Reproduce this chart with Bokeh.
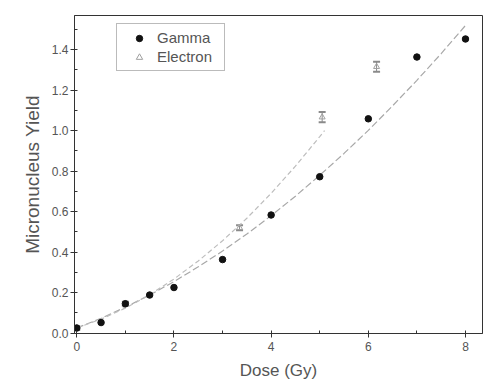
from bokeh.plotting import figure
from bokeh.models import (ColumnDataSource, Range1d, SingleIntervalTicker,
                          Whisker, TeeHead, Legend, LegendItem, CustomJSTickFormatter)
from bokeh.embed import file_html
from bokeh.resources import INLINE

# ---- data ----
gamma_dose = [0, 0.5, 1, 1.5, 2, 3, 4, 5, 6, 7, 8]
gamma_yield = [0.025, 0.052, 0.145, 0.188, 0.225, 0.363, 0.583, 0.772, 1.058, 1.363, 1.452]

electron_dose = [0, 1, 3.35, 5.05, 6.17]
electron_yield = [0.025, 0.145, 0.52, 1.066, 1.315]
electron_err = [0.008, 0.01, 0.012, 0.025, 0.025]

gamma_fit_x = [0, 0.5, 1, 1.5, 2, 2.5, 3, 3.5, 4, 4.5, 5, 5.5, 6, 6.5, 7, 7.5, 8]
gamma_fit_y = [0.025, 0.073, 0.128, 0.188, 0.254, 0.327, 0.405, 0.489, 0.580, 0.676,
               0.779, 0.887, 1.001, 1.122, 1.248, 1.380, 1.519]

electron_fit_x = [0, 0.5, 1, 1.5, 2, 2.5, 3, 3.5, 4, 4.5, 5, 5.1]
electron_fit_y = [0.025, 0.069, 0.123, 0.189, 0.267, 0.356, 0.456, 0.567, 0.690, 0.824,
                  0.970, 1.0]

x_label = "Dose (Gy)"
y_label = "Micronucleus Yield"

FONT = "Liberation Sans"

p = figure(width=483, height=383, output_backend="svg", toolbar_location=None,
           x_range=Range1d(-0.047, 8.35), y_range=Range1d(-0.002, 1.568),
           min_border_left=74, min_border_right=1, min_border_top=15, min_border_bottom=50,
           background_fill_color="white", border_fill_color="white")
p.grid.visible = False
p.outline_line_color = "#333333"
p.outline_line_width = 1

for ax, tick in ((p.xaxis[0], 2), (p.yaxis[0], 0.2)):
    ax.ticker = SingleIntervalTicker(interval=tick, num_minor_ticks=2)
    ax.axis_line_color = "#333333"
    ax.major_tick_line_color = "#333333"
    ax.minor_tick_line_color = "#333333"
    ax.major_tick_out = 4
    ax.major_tick_in = 0
    ax.minor_tick_out = 0
    ax.minor_tick_in = 3
    ax.major_label_text_font = FONT
    ax.major_label_text_font_size = "12px"
    ax.major_label_text_color = "#555555"
    ax.axis_label_text_font = FONT
    ax.axis_label_text_font_style = "normal"
    ax.axis_label_text_color = "#555555"

p.xaxis.axis_label = x_label
p.yaxis.axis_label = y_label
p.xaxis.axis_label_text_font_size = "17px"
p.yaxis.axis_label_text_font_size = "19px"
p.xaxis.major_label_standoff = 4
p.xaxis.axis_label_standoff = 7
p.yaxis.major_label_standoff = 2
p.yaxis.axis_label_standoff = 6
p.yaxis.formatter = CustomJSTickFormatter(code="return tick.toFixed(1);")
p.xaxis.formatter = CustomJSTickFormatter(code="return tick.toFixed(0);")

# fit curves
p.line(gamma_fit_x, gamma_fit_y, line_color="#a8a8a8", line_width=1.2, line_dash="7 3")
p.line(electron_fit_x, electron_fit_y, line_color="#bdbdbd", line_width=1.2, line_dash="5 3")

# electron points with error bars
esrc = ColumnDataSource(dict(x=electron_dose, y=electron_yield,
                             lo=[y - e for y, e in zip(electron_yield, electron_err)],
                             hi=[y + e for y, e in zip(electron_yield, electron_err)]))
wh = Whisker(source=esrc, base="x", lower="lo", upper="hi", line_color="#8a8a8a",
             line_width=1,
             upper_head=TeeHead(size=7, line_color="#8a8a8a", line_width=2),
             lower_head=TeeHead(size=7, line_color="#8a8a8a", line_width=2))
p.add_layout(wh)
r_e = p.scatter("x", "y", source=esrc, marker="triangle", size=6, fill_color=None,
                line_color="#a0a0a0", line_width=1)

# gamma points
r_g = p.scatter(gamma_dose, gamma_yield, marker="circle", size=6.5, fill_color="#111111",
                line_color="#111111")

legend = Legend(items=[LegendItem(label="Gamma", renderers=[r_g]),
                       LegendItem(label="Electron", renderers=[r_e])],
                location=(42, 262))
legend.label_text_font = FONT
legend.label_text_font_size = "15px"
legend.label_text_color = "#555555"
legend.glyph_width = 34
legend.glyph_height = 16
legend.label_height = 16
legend.label_width = 62
legend.label_standoff = 1
legend.spacing = 2
legend.padding = 5
legend.margin = 0
legend.border_line_color = "#777777"
legend.border_line_width = 1
legend.background_fill_alpha = 1
p.add_layout(legend, "center")

open("out.html", "w").write(file_html(p, INLINE))
